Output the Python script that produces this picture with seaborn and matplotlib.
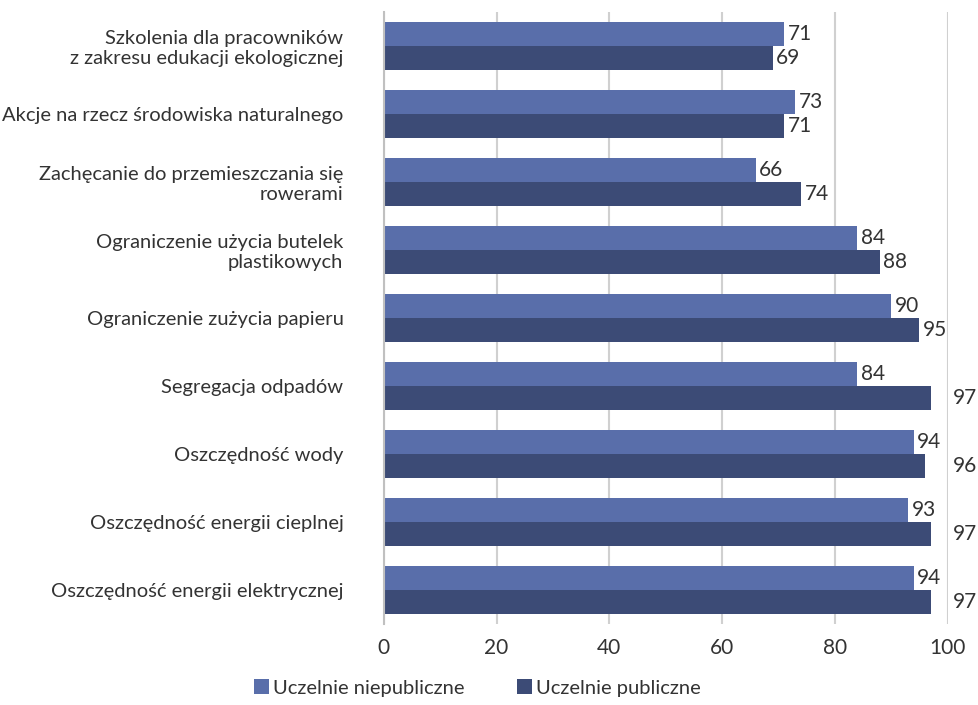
import matplotlib
matplotlib.use("Agg")
import matplotlib.pyplot as plt
import seaborn as sns
import pandas as pd

categories = [
    "Szkolenia dla pracowników\nz zakresu edukacji ekologicznej",
    "Akcje na rzecz środowiska naturalnego",
    "Zachęcanie do przemieszczania się\nrowerami",
    "Ograniczenie użycia butelek\nplastikowych",
    "Ograniczenie zużycia papieru",
    "Segregacja odpadów",
    "Oszczędność wody",
    "Oszczędność energii cieplnej",
    "Oszczędność energii elektrycznej",
]
niepubliczne = [71, 73, 66, 84, 90, 84, 94, 93, 94]
publiczne = [69, 71, 74, 88, 95, 97, 96, 97, 97]
series = ["Uczelnie niepubliczne", "Uczelnie publiczne"]
colors = ["#596eaa", "#3c4b76"]

df = pd.DataFrame({
    "Kategoria": categories * 2,
    "Wartość": niepubliczne + publiczne,
    "Typ": [series[0]] * len(categories) + [series[1]] * len(categories),
})

sns.set_style("white")
plt.rcParams["font.family"] = ["Lato", "DejaVu Sans"]
text_color = "#333333"

fig = plt.figure(figsize=(9.79, 7.05), dpi=100)
ax = fig.add_axes([0.392, 0.115, 0.576, 0.868])

sns.barplot(data=df, y="Kategoria", x="Wartość", hue="Typ", order=categories,
            hue_order=series, palette=colors, width=0.7, orient="h",
            saturation=1, linewidth=0, ax=ax, legend=True)

ax.set_xlim(0, 100)
ax.set_ylim(len(categories) - 0.5, -0.5)
ax.set_xticks([0, 20, 40, 60, 80, 100])
ax.xaxis.grid(True, color="#d0d0d0", linewidth=1.5)
ax.set_axisbelow(True)
for s in ["top", "right", "bottom"]:
    ax.spines[s].set_visible(False)
ax.spines["left"].set_color("#c0c0c0")
ax.spines["left"].set_linewidth(1.5)
ax.set_xlabel("")
ax.set_ylabel("")
ax.tick_params(axis="y", length=0, pad=29, labelsize=14.5, labelcolor=text_color)
ax.tick_params(axis="x", length=0, pad=10, labelsize=15, labelcolor=text_color)
for lbl in ax.get_yticklabels():
    lbl.set_multialignment("right")

# value labels
for container in ax.containers:
    for bar in container:
        w = bar.get_width()
        y = bar.get_y() + bar.get_height() / 2
        x = w + 0.6 if w < 96 else 101
        ax.text(x, y, f"{w:.0f}", va="center", ha="left", fontsize=15,
                color=text_color, clip_on=False)

handles, labels = ax.get_legend_handles_labels()
ax.legend_.remove()
fig.legend(handles, labels, loc="lower center", bbox_to_anchor=(0.488, -0.014),
           ncol=2, frameon=False, fontsize=14.5, handlelength=0.75,
           handleheight=0.75, handletextpad=0.2, columnspacing=2.6,
           labelcolor=text_color)

fig.savefig("out.png", dpi=100)
